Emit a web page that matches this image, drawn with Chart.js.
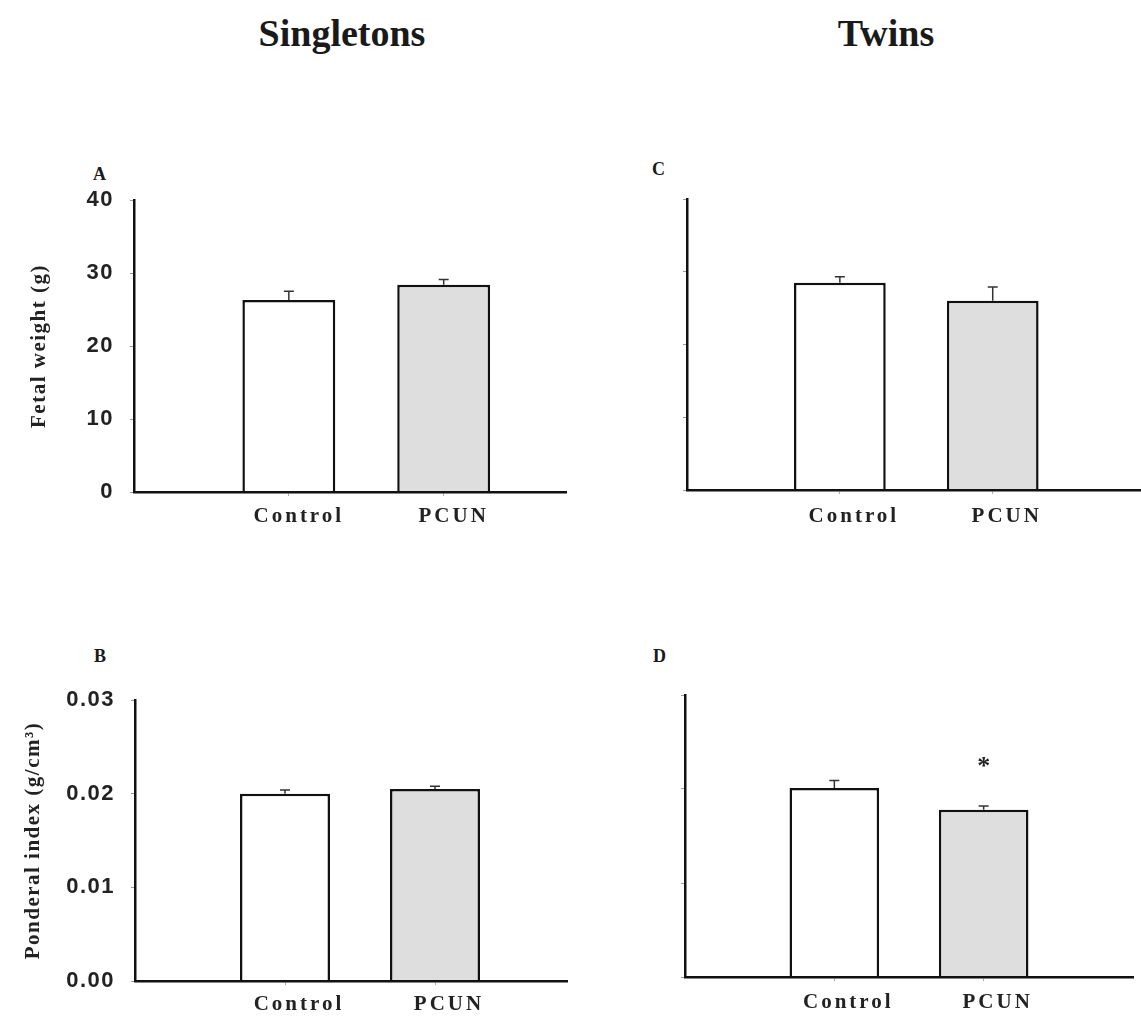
<!DOCTYPE html>
<html>
<head>
<meta charset="utf-8">
<title>Fetal weight and ponderal index</title>
<script src="https://cdn.jsdelivr.net/npm/chart.js@4.4.0/dist/chart.umd.min.js"></script>
<style>
  body { margin: 0; background: #fff; width: 1141px; height: 1018px; overflow: hidden; position: relative;
         font-family: 'Liberation Serif', 'Times New Roman', serif; color: #1a1a1a; }
  .head { position: absolute; font-weight: bold; font-size: 38px; line-height: 38px; transform: translateX(-50%); white-space: nowrap; }
  .tag  { position: absolute; font-weight: bold; font-size: 18px; line-height: 18px; }
  canvas { position: absolute; }
</style>
</head>
<body>
<div class="head" style="left:342px; top:14px;">Singletons</div>
<div class="head" style="left:886px; top:14px;">Twins</div>

<div class="tag" style="left:93px; top:165px;">A</div>
<div class="tag" style="left:652px; top:160px;">C</div>
<div class="tag" style="left:94px; top:647px;">B</div>
<div class="tag" style="left:653px; top:647px;">D</div>

<canvas id="panelA" width="580" height="371" style="left:0; top:169px;"></canvas>
<canvas id="panelC" width="484" height="372" style="left:657px; top:168px;"></canvas>
<canvas id="panelB" width="580" height="349" style="left:0; top:669px;"></canvas>
<canvas id="panelD" width="486" height="354" style="left:655px; top:664px;"></canvas>

<script>
// groups on the x axis
const groups = ['Control', 'PCUN'];
const barFills = ['#ffffff', '#dedede'];

// fetal weight (g), mean and SEM
const weightSingletons = [26.3, 28.4];
const weightSingletonsErr = [1.2, 0.7];
const weightTwins = [28.5, 26.0];
const weightTwinsErr = [0.8, 1.9];

// ponderal index (g/cm3), mean and SEM
const ponderalSingletons = [0.0200, 0.0205];
const ponderalSingletonsErr = [0.0004, 0.0003];
const ponderalTwins = [0.0201, 0.0178];
const ponderalTwinsErr = [0.0008, 0.0004];
const ponderalTwinsSig = ['', '*'];

const weightTicks = [0, 10, 20, 30, 40];
const ponderalTicks = ['0.00', '0.01', '0.02', '0.03'];

// upper half error bars + significance marks; letter spacing for axis text
const errorBars = {
  id: 'errorBars',
  beforeDraw(chart) {
    // y labels and title are drawn before the bars
    chart.ctx.letterSpacing = '1.5px';
  },
  afterDatasetsDraw(chart) {
    const { ctx, scales: { x, y } } = chart;
    const ds = chart.data.datasets[0];
    ctx.letterSpacing = '0px';
    ctx.save();
    ctx.strokeStyle = '#333';
    ctx.lineWidth = 1.5;
    ds.data.forEach((pt, i) => {
      const px = x.getPixelForValue(pt.x);
      const top = y.getPixelForValue(pt.y);
      const end = y.getPixelForValue(pt.y + ds.errors[i]);
      ctx.beginPath();
      ctx.moveTo(px, top);
      ctx.lineTo(px, end);
      ctx.moveTo(px - 5, end);
      ctx.lineTo(px + 5, end);
      ctx.stroke();
      if (ds.marks && ds.marks[i]) {
        ctx.fillStyle = '#222';
        ctx.font = 'bold 26px "Liberation Serif"';
        ctx.textAlign = 'center';
        ctx.textBaseline = 'alphabetic';
        ctx.fillText(ds.marks[i], px, end - 32);
      }
    });
    ctx.restore();
    // x tick labels are drawn after this point (ticks.z = 1)
    ctx.letterSpacing = '3px';
  },
  afterDraw(chart) {
    chart.ctx.letterSpacing = '0px';
  }
};

function panelChart(id, p) {
  return new Chart(document.getElementById(id), {
    type: 'bar',
    data: {
      datasets: [{
        data: p.values.map((v, i) => ({ x: i + 1, y: v })),
        errors: p.errors,
        marks: p.marks,
        backgroundColor: barFills,
        borderColor: '#111',
        borderWidth: 2.5,
        borderSkipped: 'start',
        barPercentage: 0.6,
        categoryPercentage: 1
      }]
    },
    options: {
      responsive: false,
      animation: false,
      events: [],
      layout: { padding: p.padding },
      plugins: { legend: { display: false }, tooltip: { enabled: false } },
      scales: {
        x: {
          type: 'linear',
          min: 0,
          max: p.xMax,
          offset: false,
          afterBuildTicks: s => { s.ticks = groups.map((g, i) => ({ value: i + 1 })); },
          afterFit: s => { s.height = p.xHeight; },
          grid: { drawOnChartArea: false, offset: false, tickLength: 4, color: '#aaa' },
          border: { color: '#111', width: 2.5, z: 1 },
          ticks: {
            z: 1,
            padding: p.xPad,
            labelOffset: p.xShift,
            autoSkip: false,
            maxRotation: 0,
            color: '#222',
            font: { family: 'Liberation Serif', weight: 'bold', size: 21 },
            callback: v => groups[v - 1] ?? ''
          }
        },
        y: {
          min: 0,
          max: p.yMax,
          afterFit: s => { s.width = p.yWidth; },
          afterBuildTicks: s => { s.ticks = p.yTicks.map(t => ({ value: Number(t) })); },
          grid: { drawOnChartArea: false, tickLength: 4, color: '#999' },
          border: { color: '#111', width: 2.5, z: 1 },
          ticks: {
            padding: 16,
            color: '#222',
            font: { family: 'Liberation Sans', weight: 'bold', size: 22 },
            callback: (v, i) => p.showLabels ? String(p.yTicks[i]) : ''
          },
          title: {
            display: !!p.yTitle,
            text: p.yTitle || '',
            color: '#222',
            font: { family: 'Liberation Serif', weight: 'bold', size: 21 },
            padding: { top: p.titlePad || 0, bottom: 0 }
          }
        }
      }
    },
    plugins: [errorBars]
  });
}

// A: singletons, fetal weight
panelChart('panelA', {
  values: weightSingletons, errors: weightSingletonsErr,
  yMax: 40, yTicks: weightTicks, showLabels: true,
  yTitle: 'Fetal weight (g)', titlePad: 27,
  yWidth: 134, xHeight: 48, xPad: 8, xShift: 10, xMax: 2.79,
  padding: { top: 31, right: 14, left: 0, bottom: 0 }
});

// C: twins, fetal weight
panelChart('panelC', {
  values: weightTwins, errors: weightTwinsErr,
  yMax: 40, yTicks: weightTicks, showLabels: false,
  yWidth: 30, xHeight: 50, xPad: 10, xShift: 14, xMax: 2.97,
  padding: { top: 31, right: 0, left: 0, bottom: 0 }
});

// B: singletons, ponderal index
panelChart('panelB', {
  values: ponderalSingletons, errors: ponderalSingletonsErr,
  yMax: 0.03, yTicks: ponderalTicks, showLabels: true,
  yTitle: 'Ponderal index (g/cm³)', titlePad: 21,
  yWidth: 135, xHeight: 37, xPad: 7, xShift: 14, xMax: 2.88,
  padding: { top: 31, right: 13, left: 0, bottom: 0 }
});

// D: twins, ponderal index
panelChart('panelD', {
  values: ponderalTwins, errors: ponderalTwinsErr, marks: ponderalTwinsSig,
  yMax: 0.03, yTicks: ponderalTicks, showLabels: false,
  yWidth: 30, xHeight: 41, xPad: 9, xShift: 14, xMax: 3.0,
  padding: { top: 31, right: 8, left: 0, bottom: 0 }
});
</script>
</body>
</html>
